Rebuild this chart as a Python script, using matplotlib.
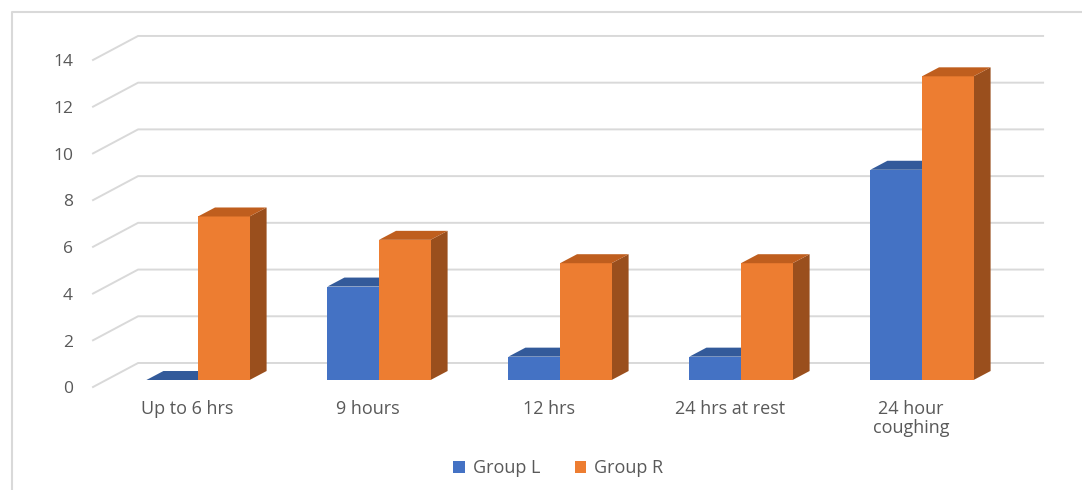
import matplotlib
matplotlib.use("Agg")
from matplotlib import pyplot as plt
from matplotlib.patches import Polygon, Patch
from matplotlib.lines import Line2D

# chart data
categories = ["Up to 6 hrs", "9 hours", "12 hrs", "24 hrs at rest", "24 hour\ncoughing"]
group_l = [0, 4, 1, 1, 9]
group_r = [7, 6, 5, 5, 13]
y_ticks = [0, 2, 4, 6, 8, 10, 12, 14]

# colours
blue, blue_top = "#4472C4", "#335A9A"
orange, orange_top, orange_side = "#ED7D31", "#BF5E1E", "#9A4F1D"
grid_col = "#D9D9D9"
text_col = "#595959"

plt.rcParams['font.family'] = ['Open Sans', 'DejaVu Sans']

W, H = 1082, 490
fig = plt.figure(figsize=(W / 100, H / 100), dpi=100)
ax = fig.add_axes([0, 0, 1, 1])

# axes scaling: category spacing and value scale in pixels
cat_px, unit_px = 181.0, 23.36
x0_px, y0_px = 198.0, 380.0
ax.set_xlim(-x0_px / cat_px, (W - x0_px) / cat_px)
ax.set_ylim(-(H - y0_px) / unit_px, y0_px / unit_px)
ax.axis("off")

# 3d look: depth offsets
bw = 0.285                 # bar width (category units)
bdx, bdy = 0.094, 0.385    # bar depth offset
wall_front_x, wall_back_x, wall_right_x = -0.58, -0.331, 4.669
wall_front_dy, wall_back_dy = -0.30, 0.728

# walls: side diagonals and back gridlines
for v in y_ticks:
    ax.plot([wall_front_x, wall_back_x, wall_right_x],
            [v + wall_front_dy, v + wall_back_dy, v + wall_back_dy],
            color=grid_col, lw=1.4, zorder=1, solid_joinstyle="miter")
    ax.text(-0.69, v + wall_front_dy - 0.1, str(v), ha="right", va="center",
            fontsize=12.5, color=text_col)


def box(x_left, h, front, top, side):
    ax.bar(x_left, h, width=bw, align="edge", color=front, zorder=3)
    ax.add_patch(Polygon([(x_left, h), (x_left + bw, h),
                          (x_left + bw + bdx, h + bdy), (x_left + bdx, h + bdy)],
                         closed=True, facecolor=top, edgecolor="none", zorder=3))
    ax.add_patch(Polygon([(x_left + bw, 0), (x_left + bw + bdx, bdy),
                          (x_left + bw + bdx, h + bdy), (x_left + bw, h)],
                         closed=True, facecolor=side, edgecolor="none", zorder=2.9))


for i, cat in enumerate(categories):
    box(i - bw, group_l[i], blue, blue_top, blue_top)
    box(i, group_r[i], orange, orange_top, orange_side)
    ax.text(i - 0.06, -0.86, cat, ha="center", va="top", fontsize=13,
            color=text_col, linespacing=1.05)

# legend
handles = [Patch(facecolor=blue, label="Group L"),
           Patch(facecolor=orange, label="Group R")]
fig.legend(handles=handles, loc="center", bbox_to_anchor=(0.516, 1 - 468 / H),
           ncol=2, frameon=False, fontsize=13, handlelength=0.65,
           handleheight=0.65, columnspacing=1.9, handletextpad=0.45,
           labelcolor=text_col)

# chart border (top and left)
fig.add_artist(Line2D([12 / W, 12 / W, 1.0], [0.0, 1 - 12 / H, 1 - 12 / H],
                      transform=fig.transFigure, color=grid_col, lw=1.5))

fig.savefig("out.png", dpi=100)
